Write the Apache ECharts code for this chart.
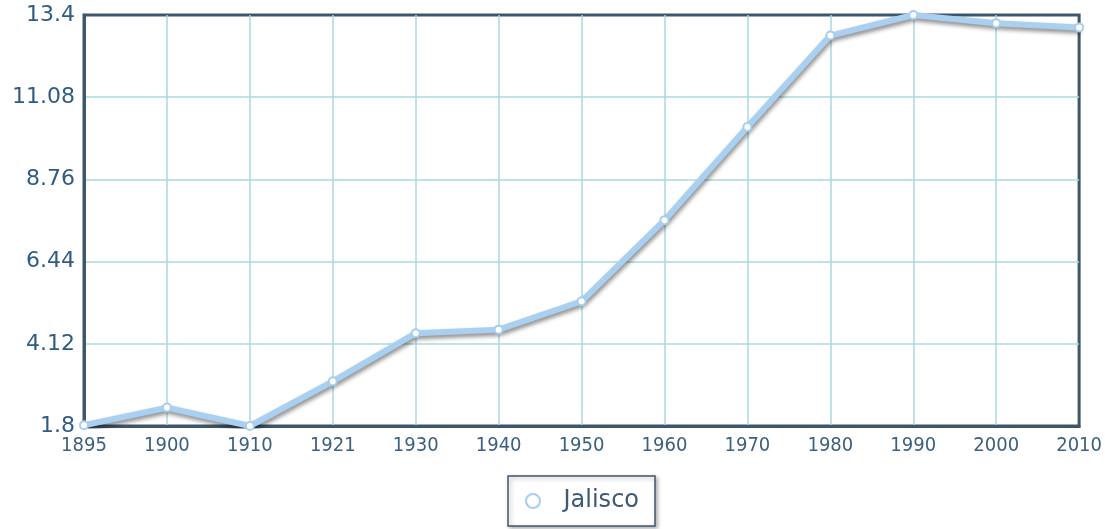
<!DOCTYPE html>
<html>
<head>
<meta charset="utf-8">
<script src="https://cdn.jsdelivr.net/npm/echarts@6/dist/echarts.min.js"></script>
<style>
  html, body { margin: 0; padding: 0; background: #fff; }
  #chart { width: 1105px; height: 529px; }
</style>
</head>
<body>
<div id="chart"></div>
<script>
var years = ["1895", "1900", "1910", "1921", "1930", "1940", "1950", "1960", "1970", "1980", "1990", "2000", "2010"];
var jalisco = [1.82, 2.32, 1.8, 3.06, 4.42, 4.52, 5.32, 7.61, 10.24, 12.82, 13.4, 13.17, 13.05];
var yTicks = [1.8, 4.12, 6.44, 8.76, 11.08, 13.4];

var myChart = echarts.init(document.getElementById("chart"));
// 绘制图表
myChart.setOption({
  animation: false,
  grid: {
    left: 84,
    right: 25,
    top: 15,
    bottom: 103,
    show: true,
    borderColor: "#3e566a",
    borderWidth: 3
  },
  legend: {
    top: 476,
    left: 508,
    data: ["Jalisco"],
    icon: "emptyCircle",
    itemWidth: 19,
    itemHeight: 14,
    itemGap: 10,
    itemStyle: { color: "#a7cdf0", borderColor: "#a7cdf0", borderWidth: 2.5 },
    padding: [13, 16, 13, 17],
    borderColor: "#40566b",
    borderWidth: 1.5,
    shadowColor: "rgba(0,0,0,0.3)",
    shadowBlur: 4,
    shadowOffsetX: 2,
    shadowOffsetY: 2,
    backgroundColor: "#fff",
    textStyle: { fontFamily: "DejaVu Sans", fontSize: 24, color: "#3d5a74", padding: [0, 0, 0, 16] }
  },
  xAxis: {
    type: "category",
    data: years,
    boundaryGap: false,
    axisLine: { lineStyle: { color: "#3e566a", width: 3 } },
    axisTick: { show: false },
    axisLabel: {
      margin: 10,
      fontFamily: "DejaVu Sans Condensed",
      fontSize: 20,
      color: "#3d5f80"
    },
    splitLine: { show: true, showMinLine: false, showMaxLine: false, lineStyle: { color: "#a9d8dc", width: 1.5 } }
  },
  yAxis: {
    type: "value",
    min: yTicks[0],
    max: yTicks[yTicks.length - 1],
    interval: 2.32,
    axisLine: { show: true, lineStyle: { color: "#3e566a", width: 3 } },
    axisTick: { show: false },
    axisLabel: {
      margin: 9,
      fontFamily: "DejaVu Sans",
      fontSize: 22,
      color: "#2f5b84",
      formatter: function (v) { return String(parseFloat(v.toFixed(2))); }
    },
    splitLine: { show: true, showMinLine: false, showMaxLine: false, lineStyle: { color: "#a9d8dc", width: 1.5 } }
  },
  series: [
    {
      name: "Jalisco",
      type: "line",
      data: jalisco,
      symbol: "circle",
      symbolSize: 8,
      color: "#a7cdf0",
      lineStyle: {
        width: 6,
        color: "#a9d0f1",
        shadowColor: "rgba(0,0,0,0.45)",
        shadowBlur: 4,
        shadowOffsetX: 1,
        shadowOffsetY: 3
      },
      itemStyle: { color: "#ffffff", borderColor: "#a7cdf0", borderWidth: 2 }
    }
  ]
});
</script>
</body>
</html>
